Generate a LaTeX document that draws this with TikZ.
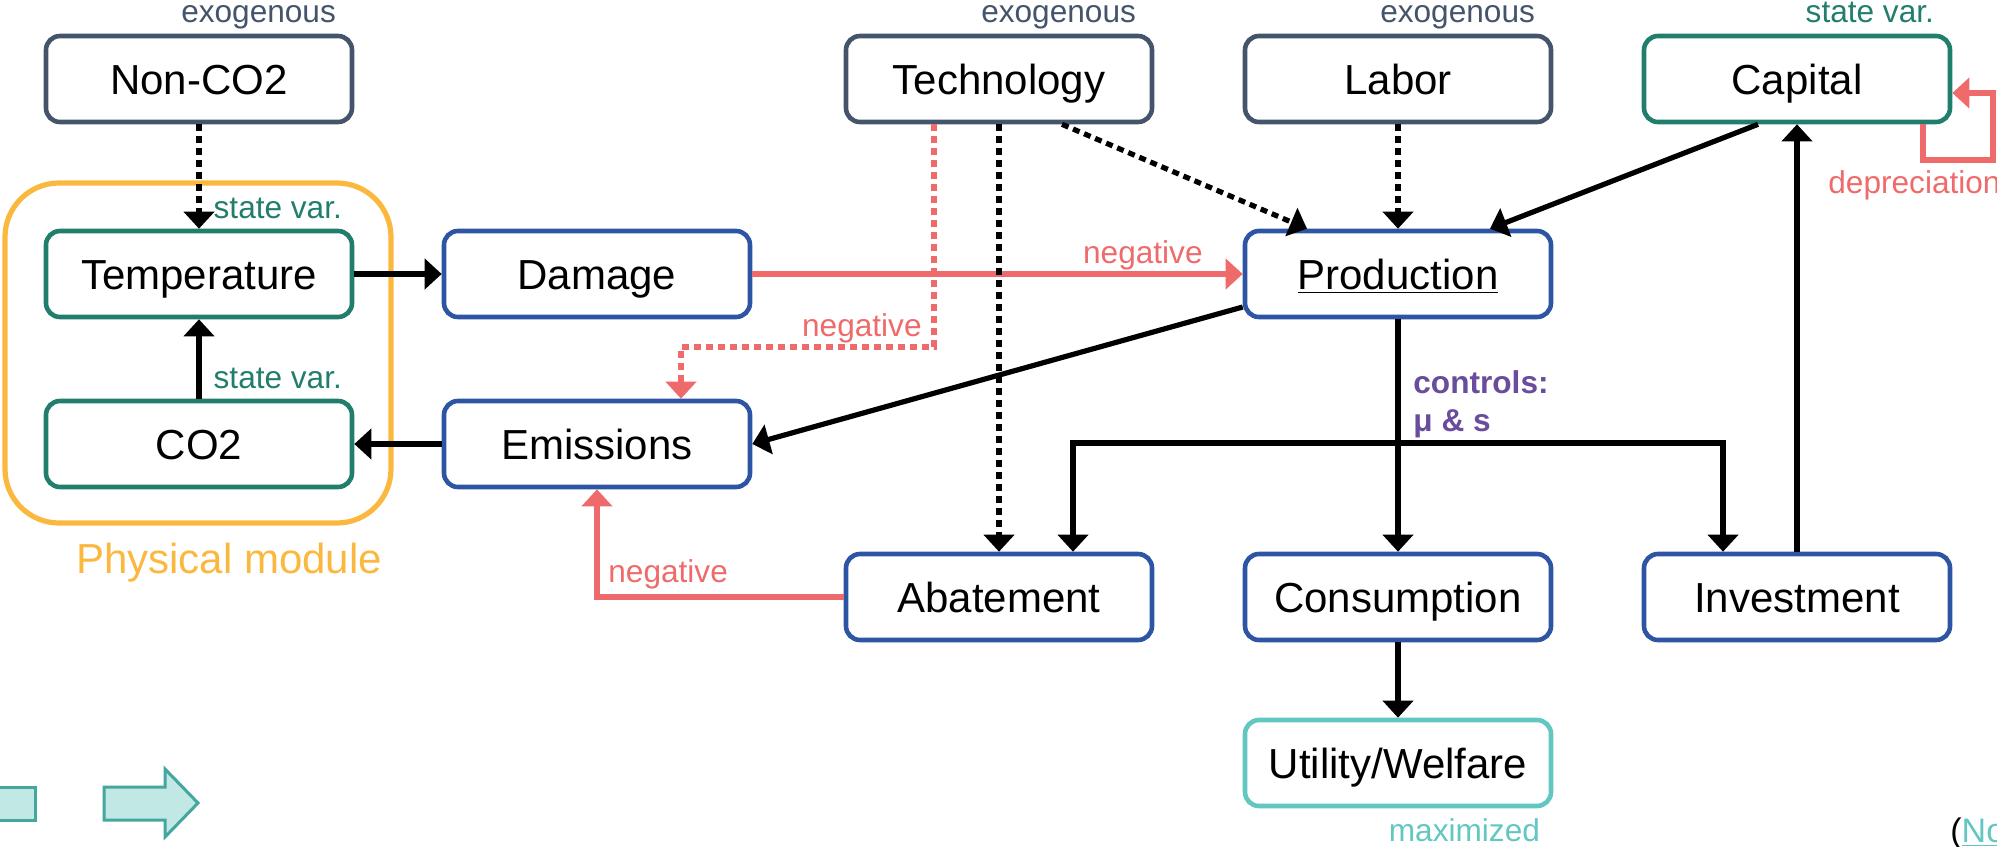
\documentclass[tikz,border=0pt]{standalone}
\usepackage{fontspec}
\setmainfont{Liberation Sans}
\usetikzlibrary{arrows.meta}
\definecolor{slate}{HTML}{44546A}
\definecolor{stategreen}{HTML}{217E6C}
\definecolor{boxblue}{HTML}{2D55A4}
\definecolor{physorange}{HTML}{FBB83F}
\definecolor{negred}{HTML}{EF6B6B}
\definecolor{ctrlpurple}{HTML}{6A4C9C}
\definecolor{maxteal}{HTML}{63C7C1}
\definecolor{navfill}{HTML}{C2E8E5}
\definecolor{navline}{HTML}{43A79D}
\begin{document}
\begin{tikzpicture}[x=.5pt,y=-.5pt,>={Triangle[width=15pt,length=8.5pt]},
    box/.style={draw,line width=2.3pt,rounded corners=7pt,minimum width=153pt,minimum height=43pt,inner sep=0pt,text height=15pt,text depth=0pt,font=\fontsize{21}{25}\selectfont},
    lbl/.style={inner sep=0pt,font=\fontsize{15.8}{19}\selectfont},
    arr/.style={->,line width=2.6pt},
    dots/.style={arr,dash pattern=on 3.5pt off 2.5pt},
    neg/.style={->,draw=negred,line width=2.6pt}]
  \useasboundingbox (0,0) rectangle (1997,846);
  \draw[physorange,line width=2.6pt,rounded corners=27pt] (5,183) rectangle (391,523);
  \node[text=physorange,anchor=base,inner sep=0pt,font=\fontsize{21}{25}\selectfont] (phys) at (229,573) {Physical module};
  \foreach \n/\c/\x/\y/\t in {
    nonco/slate/199/79/Non-CO2, tech/slate/999/79/Technology, labor/slate/1398/79/Labor, cap/stategreen/1797/79/Capital,
    temp/stategreen/199/274/Temperature, dam/boxblue/597/274/Damage, prod/boxblue/1398/274/\underline{Production},
    co/stategreen/199/444/CO2, emis/boxblue/597/444/Emissions,
    abat/boxblue/999/597/Abatement, cons/boxblue/1398/597/Consumption, inv/boxblue/1797/597/Investment
  }{
    \node[box,draw=\c] (\n) at (\x,\y) {\t};
  }
  \node[box,draw=maxteal] (util) at (1398,763) {Utility/Welfare};
  \foreach \n in {nonco,tech,labor}{
    \node[lbl,text=slate,anchor=base east] at ([xshift=-9pt,yshift=5.5pt]\n.north east) {exogenous};
  }
  \node[lbl,text=stategreen,anchor=base east] at ([xshift=-9pt,yshift=5.5pt]cap.north east) {state var.};
  \node[lbl,text=stategreen,anchor=base east] at ([xshift=-6pt,yshift=5pt]temp.north east) {state var.};
  \node[lbl,text=stategreen,anchor=base east] at ([xshift=-6pt,yshift=5pt]co.north east) {state var.};
  \node[lbl,text=maxteal,anchor=base east] at ([xshift=-6.5pt,yshift=-16.5pt]util.south east) {maximized};
  \draw[dots] (nonco) -- (temp);
  \draw[arr] (co) -- (temp);
  \draw[arr] (temp) -- (dam);
  \draw[arr] (emis) -- (co);
  \draw[neg] (dam) -- (prod);
  \node[lbl,text=negred,anchor=base east] at (1203,263) {negative};
  \coordinate (tbend) at (934,347);
  \draw[neg,dash pattern=on 3.5pt off 2.5pt] ([xshift=-32.5pt]tech.south) -- (tbend) -| ([xshift=42pt]emis.north);
  \node[lbl,text=negred,anchor=base east] at (922,336) {negative};
  \draw[dots] (tech) -- (abat);
  \draw[dots] ([xshift=31.5pt]tech.south) -- ([xshift=-45.5pt]prod.north);
  \draw[dots] (labor) -- (prod);
  \draw[arr] ([xshift=-19.5pt]cap.south) -- ([xshift=46pt]prod.north);
  \draw[arr] ([yshift=-16.5pt]prod.west) -- (emis.east);
  \draw[arr] (prod) -- (cons);
  \draw[arr] (cons) -- (util);
  \draw[arr] (inv) -- (cap);
  \coordinate (ctrl) at (1398,443);
  \draw[arr,<->] ([xshift=37pt]abat.north) |- (ctrl) -| ([xshift=-37pt]inv.north);
  \node[lbl,text=ctrlpurple,anchor=base west,font=\fontsize{15.8}{19}\selectfont\bfseries] at (1413,393) {controls:};
  \node[lbl,text=ctrlpurple,anchor=base west,font=\fontsize{15.8}{19}\selectfont\bfseries] at (1413,431) {μ \& s};
  \draw[neg] (abat.west) -| (emis.south);
  \node[lbl,text=negred,anchor=base west] at (608,582) {negative};
  \coordinate (dep) at (1993,160);
  \draw[neg] ([xshift=63pt]cap.south) |- (dep) |- ([yshift=-7pt]cap.east);
  \node[lbl,text=negred,anchor=base west] at (1828,193) {depreciation};
  \draw[navline,fill=navfill,line width=1.5pt] (-10,787) rectangle (35,820);
  \draw[navline,fill=navfill,line width=1.5pt] (104,787) -- (165,787) -- (165,769) -- (198,803) -- (165,837) -- (165,820) -- (104,820) -- cycle;
  \node[anchor=base west,inner sep=0pt,font=\fontsize{17}{20}\selectfont] at (1950,842) {(\textcolor{maxteal}{\underline{No}}};
\end{tikzpicture}
\end{document}
